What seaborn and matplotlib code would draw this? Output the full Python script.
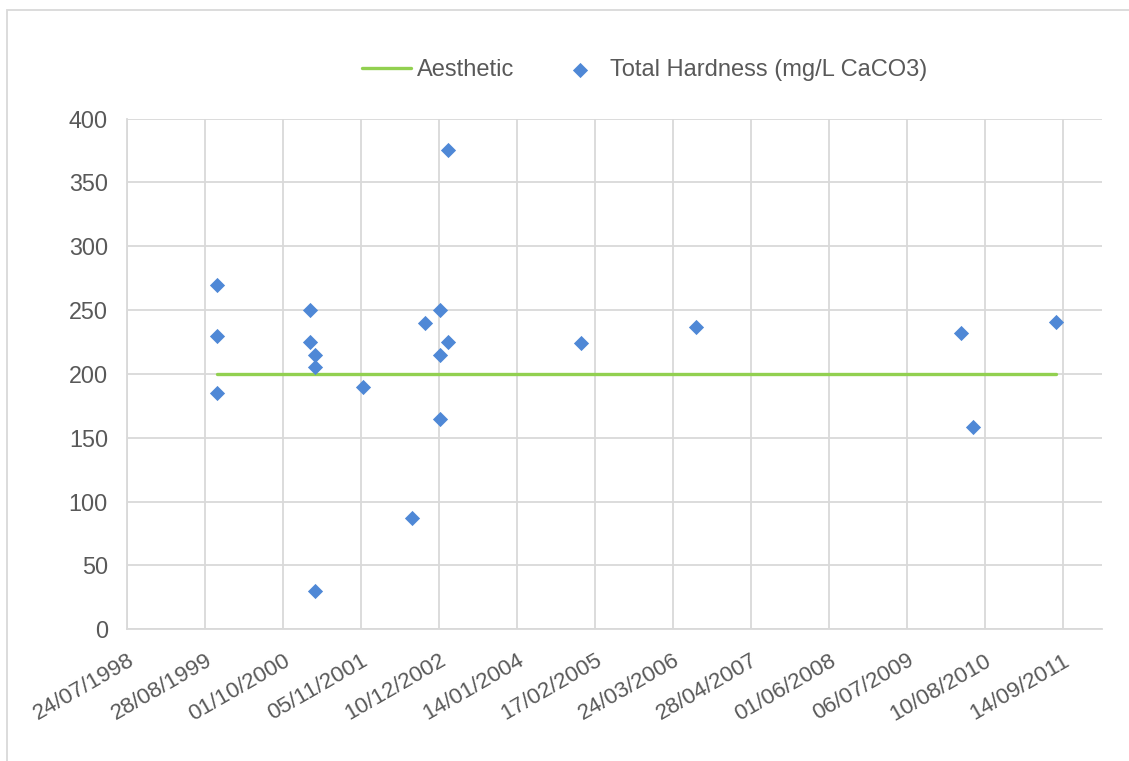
import datetime as dt

import matplotlib
matplotlib.use("Agg")
import matplotlib.pyplot as plt
import matplotlib.dates as mdates
import matplotlib.patches as mpatches
import numpy as np
import pandas as pd
import seaborn as sns

# Sampling dates and total hardness results (mg/L as CaCO3)
sample_dates = [
    "1999-10-29", "1999-10-29", "1999-10-29",
    "2001-02-13", "2001-02-13",
    "2001-03-13", "2001-03-13", "2001-03-13",
    "2001-11-15",
    "2002-07-23",
    "2002-09-26",
    "2002-12-17", "2002-12-17", "2002-12-17",
    "2003-01-27", "2003-01-27",
    "2004-12-06",
    "2006-07-20",
    "2010-04-12",
    "2010-06-13",
    "2011-08-09",
]
hardness = [
    270, 230, 185,
    250, 225,
    215, 205, 30,
    190,
    87,
    240,
    250, 215, 165,
    375, 225,
    224,
    237,
    232,
    158,
    241,
]

# Aesthetic guideline value, drawn across the sampling period
guideline_dates = ["1999-10-29", "2011-08-09"]
guideline_values = [200, 200]

series_labels = ["Aesthetic", "Total Hardness (mg/L CaCO3)"]
y_ticks = [0, 50, 100, 150, 200, 250, 300, 350, 400]

samples = pd.DataFrame({"date": pd.to_datetime(sample_dates), "value": hardness})
guideline = pd.DataFrame({"date": pd.to_datetime(guideline_dates), "value": guideline_values})

sns.set_theme(style="white")
plt.rcParams["font.family"] = ["Liberation Sans", "DejaVu Sans"]

GRID = "#d9d9d9"
TEXT = "#595959"
BLUE = "#4f88d6"
GREEN = "#92d050"
FS = 16.8

fig = plt.figure(figsize=(11.29, 7.61), dpi=100)
ax = fig.add_axes([0.1128, 0.1732, 0.8630, 0.6710])

sns.lineplot(data=guideline, x="date", y="value", ax=ax, color=GREEN,
             linewidth=2.4, label=series_labels[0], zorder=3)
sns.scatterplot(data=samples, x="date", y="value", ax=ax, color=BLUE,
                marker="D", s=60, linewidth=0, label=series_labels[1], zorder=4)

# Date axis: ticks every 400 days starting at 24/07/1998
start = dt.datetime(1998, 7, 24)
x_ticks = [start + dt.timedelta(days=400 * i) for i in range(13)]
ax.set_xlim(start, start + dt.timedelta(days=5000))
ax.set_xticks(x_ticks)
ax.xaxis.set_major_formatter(mdates.DateFormatter("%d/%m/%Y"))
ax.set_ylim(0, 400)
ax.set_yticks(y_ticks)

ax.grid(True, color=GRID, linewidth=1.3)
ax.set_axisbelow(True)
for side in ["top", "right"]:
    ax.spines[side].set_visible(False)
for side in ["left", "bottom"]:
    ax.spines[side].set_color(GRID)
    ax.spines[side].set_linewidth(1.3)

ax.set_xlabel("")
ax.set_ylabel("")
ax.tick_params(axis="both", length=0, labelsize=FS, labelcolor=TEXT)
ax.tick_params(axis="y", pad=14)
ax.tick_params(axis="x", labelsize=16.2, pad=15)
for lbl in ax.get_xticklabels():
    lbl.set_rotation(30)
    lbl.set_ha("right")
    lbl.set_va("top")
    lbl.set_rotation_mode("anchor")

handles, labels = ax.get_legend_handles_labels()
ax.legend(handles, labels, ncol=2, frameon=False, loc="center",
          bbox_to_anchor=(0.571, 0.908), bbox_transform=fig.transFigure,
          fontsize=17, labelcolor=TEXT, handlelength=2.1, handletextpad=0.25,
          columnspacing=1.7)

# Chart-area border
fig.patches.append(mpatches.Rectangle((7 / 1129, -0.05), 1.2, 1.05 - 10 / 761,
                                      transform=fig.transFigure, fill=False,
                                      edgecolor=GRID, linewidth=1.3))

fig.savefig("out.png", dpi=100)
